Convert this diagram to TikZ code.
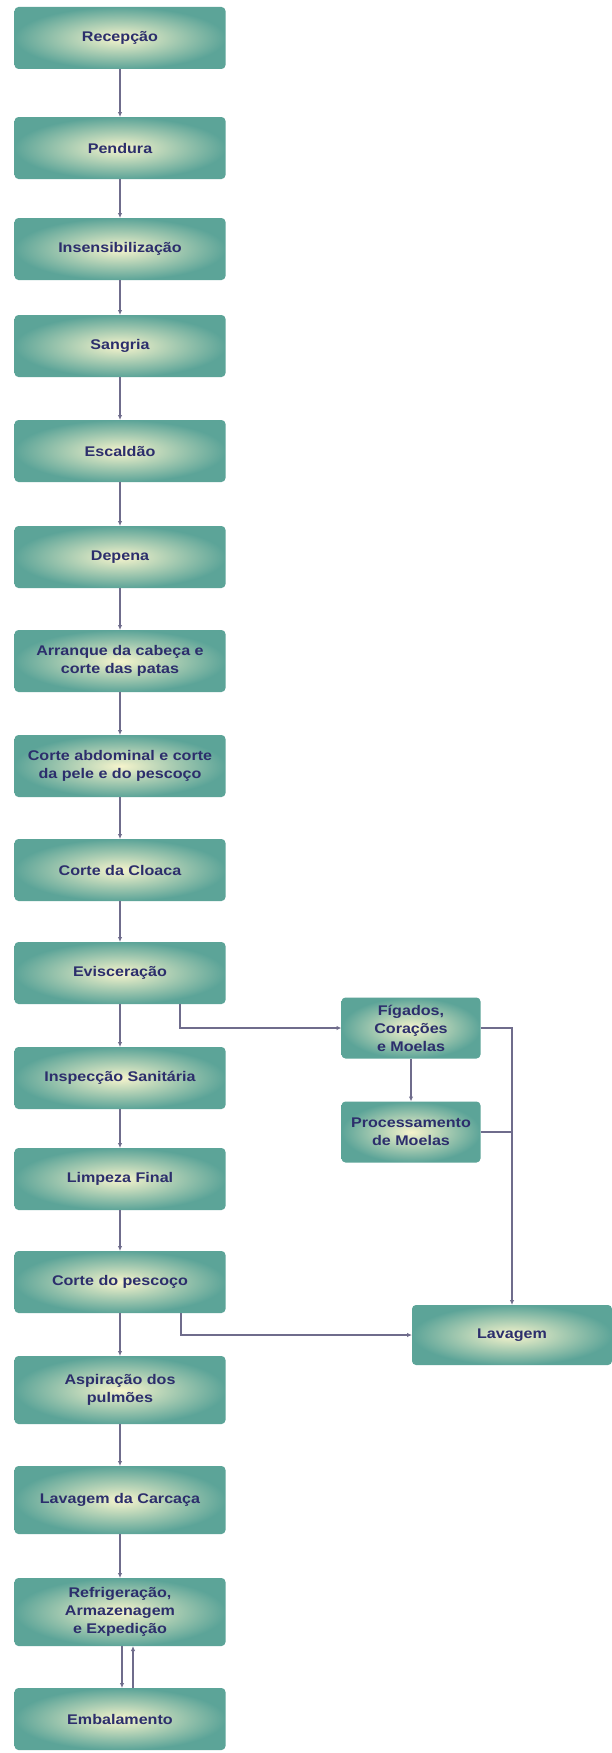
\documentclass[tikz,border=0pt]{standalone}
\usepackage{fontspec}
\usepackage{tikz,tkz-graph}
\usetikzlibrary{arrows.meta}
\newfontfamily\boxfont{Liberation Sans}[FakeStretch=1.15]
\definecolor{boxMid}{HTML}{F6F4CC}
\definecolor{boxRim}{HTML}{5CA498}
\definecolor{boxText}{HTML}{2C2E6C}
\definecolor{lineCol}{HTML}{6F6C8C}
\tikzstyle{stepBox}=[shape = rectangle, rounded corners = 4pt, shading = radial, inner color = boxMid, outer color = boxRim, minimum width = 211pt, minimum height = 62pt, inner sep = 2pt, align = center, text = boxText, font = \boxfont\bfseries\fontsize{14}{18}\selectfont]
\tikzstyle{tallBox}=[stepBox, minimum height = 68pt]
\tikzstyle{sideBox}=[stepBox, minimum width = 139pt, minimum height = 61pt]
\tikzstyle{wideBox}=[stepBox, minimum width = 200pt, minimum height = 60pt]

\begin{document}
\begin{tikzpicture}[x = 1pt, y = -1pt]
\tikzstyle{VertexStyle} = []
\tikzstyle{EdgeStyle} = [draw = lineCol, line width = 1.1pt, -{Latex[length=5pt,width=4.5pt]}]
\tikzstyle{plainLine} = [draw = lineCol, line width = 1.1pt]
\path[use as bounding box, fill = white] (0,0) rectangle (611,1753);
% left column
\Vertex[style = stepBox, x = 120, y = 38, L = {Recepção}]{rec}
\Vertex[style = stepBox, x = 120, y = 148, L = {Pendura}]{pen}
\Vertex[style = stepBox, x = 120, y = 249, L = {Insensibilização}]{ins}
\Vertex[style = stepBox, x = 120, y = 346, L = {Sangria}]{san}
\Vertex[style = stepBox, x = 120, y = 451, L = {Escaldão}]{esc}
\Vertex[style = stepBox, x = 120, y = 557, L = {Depena}]{dep}
\Vertex[style = stepBox, x = 120, y = 661, L = {Arranque da cabeça e\\corte das patas}]{arr}
\Vertex[style = stepBox, x = 120, y = 766, L = {Corte abdominal e corte\\da pele e do pescoço}]{abd}
\Vertex[style = stepBox, x = 120, y = 870, L = {Corte da Cloaca}]{clo}
\Vertex[style = stepBox, x = 120, y = 973, L = {Evisceração}]{evi}
\Vertex[style = stepBox, x = 120, y = 1078, L = {Inspecção Sanitária}]{isp}
\Vertex[style = stepBox, x = 120, y = 1179, L = {Limpeza Final}]{lim}
\Vertex[style = stepBox, x = 120, y = 1282, L = {Corte do pescoço}]{pes}
\Vertex[style = tallBox, x = 120, y = 1390, L = {Aspiração dos\\pulmões}]{asp}
\Vertex[style = tallBox, x = 120, y = 1500, L = {Lavagem da Carcaça}]{car}
\Vertex[style = tallBox, x = 120, y = 1612, L = {Refrigeração,\\Armazenagem\\e Expedição}]{ref}
\Vertex[style = stepBox, x = 120, y = 1719, L = {Embalamento}]{emb}
% right side
\Vertex[style = sideBox, x = 411, y = 1028, L = {Fígados,\\Corações\\e Moelas}]{fig}
\Vertex[style = sideBox, x = 411, y = 1132, L = {Processamento\\de Moelas}]{pro}
\Vertex[style = wideBox, x = 512, y = 1335, L = {Lavagem}]{lav}
\Edge(rec)(pen)
\Edge(pen)(ins)
\Edge(ins)(san)
\Edge(san)(esc)
\Edge(esc)(dep)
\Edge(dep)(arr)
\Edge(arr)(abd)
\Edge(abd)(clo)
\Edge(clo)(evi)
\Edge(evi)(isp)
\Edge(isp)(lim)
\Edge(lim)(pes)
\Edge(pes)(asp)
\Edge(asp)(car)
\Edge(car)(ref)
\Edge(fig)(pro)
\draw[EdgeStyle] ([xshift = 2pt]ref.south) -- ([xshift = 2pt]emb.north);
\draw[EdgeStyle] ([xshift = 13pt]emb.north) -- ([xshift = 13pt]ref.south);
\draw[EdgeStyle] ([xshift = 60pt]evi.south) |- (fig.west);
\draw[EdgeStyle] (fig.east) -| (lav.north);
\draw[plainLine] (pro.east) -- (pro.east -| lav.north);
\draw[EdgeStyle] ([xshift = 61pt]pes.south) |- (lav.west);
\end{tikzpicture}
\end{document}
